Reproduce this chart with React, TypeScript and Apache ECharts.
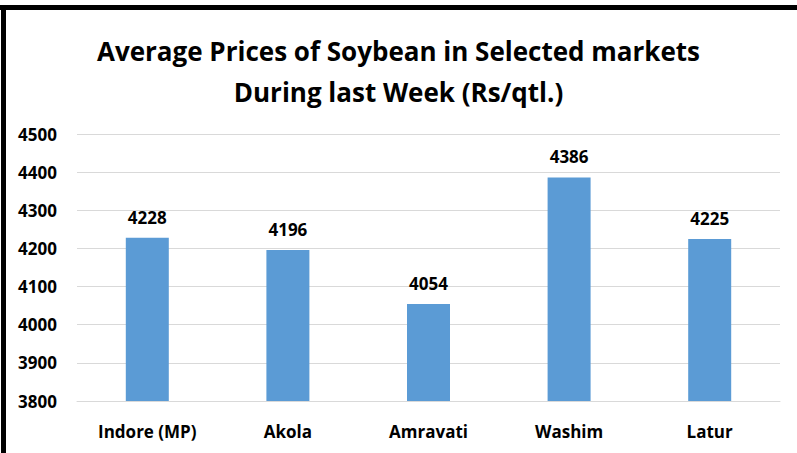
import React, { useEffect, useRef } from "react";
import * as echarts from "echarts";

const categories = ["Indore (MP)", "Akola", "Amravati", "Washim", "Latur"];
const prices = [4228, 4196, 4054, 4386, 4225];
const titleLines = ["Average Prices of Soybean in Selected markets", "During last Week (Rs/qtl.)"];

export default function App() {
  const ref = useRef<HTMLDivElement>(null);
  useEffect(() => {
    document.body.style.margin = "0";
    const chart = echarts.init(ref.current!, null, { renderer: "svg" });
    const font = "'Open Sans', sans-serif";
    chart.setOption({
      animation: false,
      backgroundColor: "#ffffff",
      title: {
        text: titleLines.join("\n"),
        left: "center",
        top: 25,
        textStyle: { fontFamily: font, fontWeight: "bold", fontSize: 26, color: "#000", lineHeight: 41 },
      },
      graphic: [
        { type: "rect", shape: { x: 0, y: 5, width: 797, height: 5 }, style: { fill: "#000" } },
        { type: "rect", shape: { x: 1, y: 5, width: 5, height: 448 }, style: { fill: "#000" } },
      ],
      grid: { left: 77, right: 17, top: 134, bottom: 52 },
      xAxis: {
        type: "category",
        data: categories,
        axisLine: { lineStyle: { color: "#d9d9d9" } },
        axisTick: { show: false },
        axisLabel: { fontFamily: font, fontWeight: "bold", fontSize: 17, color: "#000", margin: 22 },
      },
      yAxis: {
        type: "value",
        min: 3800,
        max: 4500,
        interval: 100,
        axisLine: { show: false },
        axisTick: { show: false },
        splitLine: { lineStyle: { color: "#d9d9d9" } },
        axisLabel: {
          fontFamily: font,
          fontWeight: "bold",
          fontSize: 17,
          color: "#000",
          margin: 20,
          formatter: (v: number) => String(v),
        },
      },
      series: [
        {
          type: "bar",
          data: prices,
          barWidth: 43,
          itemStyle: { color: "#5B9BD5" },
          label: { show: true, position: "top", distance: 12, fontFamily: font, fontWeight: "bold", fontSize: 17, color: "#000" },
        },
      ],
    });
    return () => chart.dispose();
  }, []);
  return <div ref={ref} style={{ width: 797, height: 453 }} />;
}
